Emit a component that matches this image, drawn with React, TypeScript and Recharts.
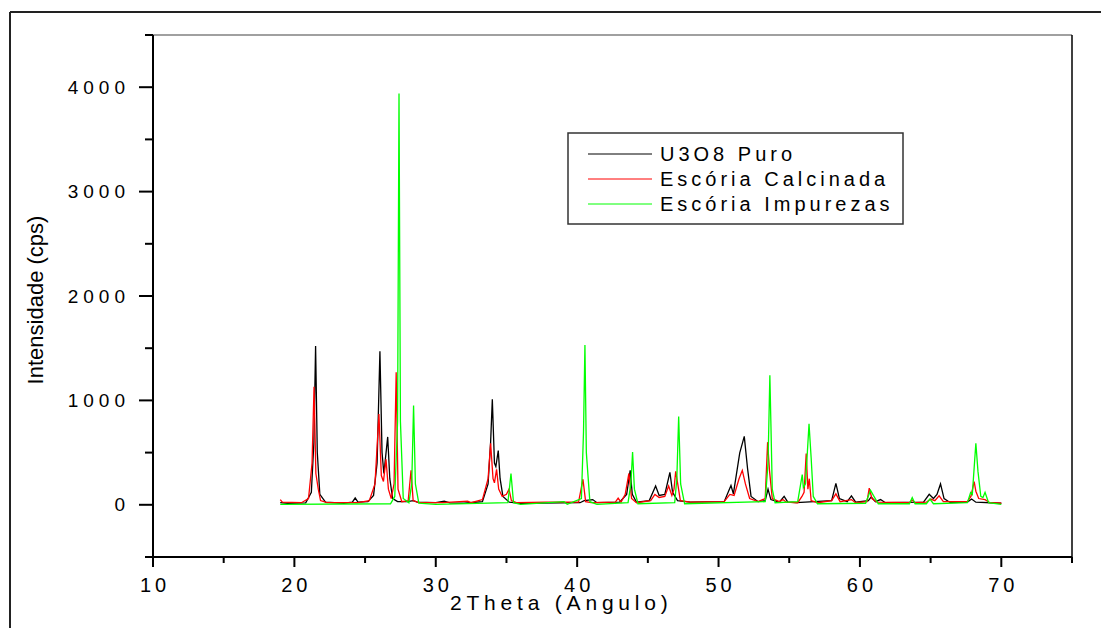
import React from 'react'
import { LineChart, Line, XAxis, YAxis, ReferenceLine } from 'recharts'

const u3o8Puro: [number, number][] = [
  [19.0, 20], [19.5, 15], [20.8, 18], [21.2, 120], [21.38, 600], [21.5, 1520], [21.62, 500],
  [21.8, 100], [22.2, 25], [23.5, 15], [24.1, 25], [24.3, 65], [24.5, 25], [25.2, 30],
  [25.6, 90], [25.85, 400], [26.05, 1470], [26.2, 500], [26.33, 300], [26.6, 650], [26.75, 250],
  [26.95, 60], [27.3, 30], [28.0, 30], [28.4, 40], [28.7, 25], [30.0, 20], [30.6, 35],
  [31.0, 18], [32.0, 15], [33.3, 30], [33.7, 200], [33.88, 600], [34.0, 1010], [34.15, 400],
  [34.25, 367], [34.42, 520], [34.55, 250], [34.75, 80], [35.2, 25], [36.0, 15], [40.2, 20],
  [40.5, 40], [41.1, 50], [41.4, 20], [43.0, 25], [43.5, 100], [43.75, 330], [43.9, 100],
  [44.2, 25], [45.1, 40], [45.55, 180], [45.8, 90], [46.2, 100], [46.56, 310], [46.75, 120],
  [47.1, 40], [48.0, 25], [50.4, 30], [50.88, 185], [51.05, 105], [51.5, 497], [51.82, 655],
  [52.05, 350], [52.3, 80], [52.8, 30], [53.3, 40], [53.5, 150], [53.7, 50], [54.3, 25],
  [54.64, 80], [54.9, 25], [55.5, 20], [58.0, 40], [58.3, 205], [58.55, 60], [59.1, 30],
  [59.4, 85], [59.7, 25], [60.6, 40], [60.8, 75], [61.1, 30], [61.46, 50], [61.8, 20],
  [64.5, 25], [64.9, 100], [65.2, 60], [65.45, 100], [65.7, 200], [65.95, 60], [66.4, 20],
  [67.6, 25], [67.9, 55], [68.2, 25], [70.0, 15],
]

const escoriaCalcinada: [number, number][] = [
  [19.0, 50], [19.15, 25], [20.5, 20], [21.0, 60], [21.25, 400], [21.39, 1130], [21.52, 300],
  [21.69, 150], [21.85, 40], [22.3, 20], [24.5, 20], [25.3, 40], [25.7, 200], [25.98, 870],
  [26.15, 280], [26.3, 223], [26.48, 437], [26.65, 150], [26.85, 60], [27.05, 200], [27.2, 1270],
  [27.33, 150], [27.6, 30], [28.05, 40], [28.25, 330], [28.4, 40], [28.8, 20], [30.5, 20],
  [32.25, 35], [32.5, 20], [33.3, 50], [33.7, 250], [33.88, 590], [34.05, 250], [34.15, 210],
  [34.3, 340], [34.45, 150], [34.7, 80], [35.0, 100], [35.18, 150], [35.35, 40], [35.7, 20],
  [37.8, 25], [40.1, 25], [40.41, 245], [40.6, 30], [41.0, 20], [42.7, 25], [42.9, 64],
  [43.1, 25], [43.4, 100], [43.66, 300], [43.85, 60], [44.2, 20], [45.2, 40], [45.5, 100],
  [45.8, 70], [46.2, 80], [46.47, 180], [46.7, 90], [46.85, 150], [46.97, 320], [47.1, 213],
  [47.3, 40], [48.0, 25], [50.4, 30], [50.8, 100], [51.1, 90], [51.45, 250], [51.68, 330],
  [51.9, 200], [52.2, 60], [52.8, 30], [53.3, 60], [53.47, 600], [53.6, 335], [53.8, 60],
  [54.3, 30], [54.55, 50], [54.8, 25], [55.6, 20], [55.9, 80], [56.05, 120], [56.2, 490],
  [56.32, 150], [56.42, 250], [56.55, 40], [57.0, 20], [58.0, 40], [58.3, 105], [58.6, 30],
  [59.4, 50], [59.7, 20], [60.5, 30], [60.66, 160], [60.85, 60], [61.2, 25], [63.5, 20],
  [63.7, 45], [63.9, 20], [64.7, 25], [65.0, 55], [65.3, 40], [65.6, 86], [65.9, 30],
  [67.6, 30], [67.85, 80], [68.08, 223], [68.2, 130], [68.4, 60], [68.85, 50], [69.2, 20],
  [70.0, 15],
]

const escoriaImpurezas: [number, number][] = [
  [19.0, 5], [26.8, 10], [27.1, 80], [27.3, 800], [27.4, 3940], [27.5, 800], [27.7, 60],
  [28.1, 20], [28.3, 200], [28.43, 950], [28.56, 200], [28.8, 15], [30.0, 5], [35.1, 20],
  [35.32, 300], [35.5, 20], [36.0, 5], [39.07, 30], [39.3, 5], [40.3, 60], [40.45, 700],
  [40.55, 1530], [40.65, 500], [40.9, 30], [41.4, 5], [43.6, 20], [43.8, 200], [43.92, 505],
  [44.05, 150], [44.3, 10], [46.9, 20], [47.05, 250], [47.18, 845], [47.32, 200], [47.6, 10],
  [53.3, 30], [53.5, 400], [53.63, 1240], [53.7, 800], [53.8, 150], [54.0, 20], [55.6, 30],
  [55.92, 290], [56.0, 165], [56.15, 200], [56.4, 775], [56.55, 450], [56.7, 80], [57.0, 10],
  [60.4, 15], [60.75, 140], [60.95, 90], [61.3, 10], [63.5, 10], [63.7, 70], [63.9, 10],
  [64.7, 10], [64.95, 55], [65.2, 10], [67.6, 20], [67.83, 118], [67.95, 100], [68.2, 590],
  [68.35, 320], [68.55, 80], [68.7, 70], [68.85, 120], [69.1, 20], [70.0, 5],
]

const xTicks = [10, 15, 20, 25, 30, 35, 40, 45, 50, 55, 60, 65, 70, 75]
const yTicks = [-500, 0, 500, 1000, 1500, 2000, 2500, 3000, 3500, 4000, 4500]

const seriesNames = ['U3O8 Puro', 'Escória Calcinada', 'Escória Impurezas']
const seriesColors = ['#000000', '#ff0000', '#00ff00']

const FONT = '"Liberation Sans", Arial, sans-serif'

const toPoints = (arr: [number, number][]) => arr.map(([x, y]) => ({ x, y }))

const XTick = (props: any) => {
  const { x, y, payload } = props
  const v = payload.value
  const major = v % 10 === 0 && v <= 70
  return (
    <g>
      <line x1={x} x2={x} y1={y} y2={y + (major ? 10 : 6)} stroke="#000" strokeWidth={2} />
      {major && (
        <text
          x={x + 2}
          y={y + 28}
          textAnchor="middle"
          dominantBaseline="central"
          fontFamily={FONT}
          fontSize={20}
          letterSpacing={4}
          fill="#000"
        >
          {v}
        </text>
      )}
    </g>
  )
}

const YTick = (props: any) => {
  const { x, y, payload } = props
  const v = payload.value
  const major = v % 1000 === 0 && v >= 0 && v <= 4000
  return (
    <g>
      <line x1={x - (major ? 14 : 8)} x2={x} y1={y} y2={y} stroke="#000" strokeWidth={2} />
      {major && (
        <text
          x={x - 23}
          y={y}
          textAnchor="end"
          dominantBaseline="central"
          fontFamily={FONT}
          fontSize={19}
          letterSpacing={5}
          fill="#000"
        >
          {v}
        </text>
      )}
    </g>
  )
}

export default function App() {
  const rows = [154, 179, 204]
  return (
    <div style={{ position: 'absolute', left: 0, top: 0, width: 1101, height: 628, background: '#fff' }}>
      <LineChart width={1101} height={628} margin={{ top: 35, right: 29, bottom: 31, left: 53 }}>
        <XAxis
          dataKey="x"
          type="number"
          domain={[10, 75]}
          ticks={xTicks}
          interval={0}
          allowDataOverflow
          height={40}
          tickSize={0}
          tickMargin={0}
          tickLine={false}
          axisLine={{ stroke: '#000', strokeWidth: 2 }}
          tick={<XTick />}
        />
        <YAxis
          type="number"
          domain={[-500, 4500]}
          ticks={yTicks}
          interval={0}
          allowDataOverflow
          width={100}
          tickSize={0}
          tickMargin={0}
          tickLine={false}
          axisLine={{ stroke: '#000', strokeWidth: 2 }}
          tick={<YTick />}
        />
        <ReferenceLine y={4500} stroke="#808080" strokeWidth={1.5} />
        <ReferenceLine x={75} stroke="#000" strokeWidth={1.5} />
        <Line data={toPoints(u3o8Puro)} dataKey="y" type="linear" stroke={seriesColors[0]} strokeWidth={1.3} dot={false} isAnimationActive={false} />
        <Line data={toPoints(escoriaCalcinada)} dataKey="y" type="linear" stroke={seriesColors[1]} strokeWidth={1.3} dot={false} isAnimationActive={false} />
        <Line data={toPoints(escoriaImpurezas)} dataKey="y" type="linear" stroke={seriesColors[2]} strokeWidth={1.3} dot={false} isAnimationActive={false} />
      </LineChart>
      <svg
        width={1101}
        height={628}
        style={{ position: 'absolute', left: 0, top: 0, pointerEvents: 'none' }}
      >
        <line x1={10} x2={1101} y1={12} y2={12} stroke="#222" strokeWidth={2} />
        <line x1={10} x2={10} y1={12} y2={628} stroke="#222" strokeWidth={2} />
        <text
          x={35}
          y={300}
          transform="rotate(-90 35 300)"
          textAnchor="middle"
          dominantBaseline="central"
          fontFamily={FONT}
          fontSize={22}
          fill="#000"
        >
          Intensidade (cps)
        </text>
        <text x={450} y={602} dominantBaseline="central" fontFamily={FONT} fontSize={21} letterSpacing={4.8} fill="#000">
          2Theta (Angulo)
        </text>
        <rect x={568} y={133} width={335} height={91} fill="#fff" stroke="#333" strokeWidth={1.5} />
        {seriesNames.map((n, i) => (
          <g key={n}>
            <line x1={588} x2={652} y1={rows[i]} y2={rows[i]} stroke={seriesColors[i]} strokeWidth={1} />
            <text x={660} y={rows[i]} dominantBaseline="central" fontFamily={FONT} fontSize={20} letterSpacing={4} fill="#000">
              {n}
            </text>
          </g>
        ))}
      </svg>
    </div>
  )
}
